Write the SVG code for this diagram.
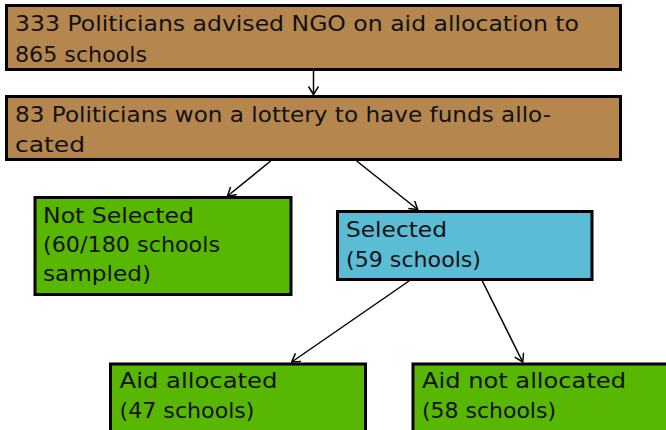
<svg xmlns="http://www.w3.org/2000/svg" width="666" height="430" viewBox="0 0 666 430">
<defs>
<style>
.box{stroke:#000;stroke-width:3}
.brown{fill:#B5874F}
.green{fill:#58B700}
.blue{fill:#5BBCD6}
text{font-family:"DejaVu Sans","Liberation Sans",sans-serif;font-size:22px;fill:#111}
.conn line{stroke:#000;stroke-width:1.5;fill:none;marker-end:url(#arr)}
</style>
<marker id="arr" markerUnits="userSpaceOnUse" markerWidth="14" markerHeight="14" refX="9" refY="5" orient="auto">
<path d="M1,0 L9,5 L1,10" fill="none" stroke="#000" stroke-width="1.5"/>
</marker>
</defs>
<rect width="666" height="430" fill="#fff"/>
<g id="politicians">
<rect class="box brown" x="6.5" y="5.5" width="614" height="64"/>
<text x="15" y="31" textLength="564" lengthAdjust="spacingAndGlyphs">333 Politicians advised NGO on aid allocation to</text>
<text x="15" y="61.5" textLength="132" lengthAdjust="spacingAndGlyphs">865 schools</text>
</g>
<g id="lottery">
<rect class="box brown" x="6.5" y="96.5" width="614" height="63"/>
<text x="15" y="121.7" textLength="536" lengthAdjust="spacingAndGlyphs">83 Politicians won a lottery to have funds allo-</text>
<text x="15" y="152.3" textLength="70" lengthAdjust="spacingAndGlyphs">cated</text>
</g>
<g id="not-selected">
<rect class="box green" x="35" y="197.5" width="256" height="97"/>
<text x="43" y="223" textLength="151" lengthAdjust="spacingAndGlyphs">Not Selected</text>
<text x="43" y="252" textLength="177" lengthAdjust="spacingAndGlyphs">(60/180 schools</text>
<text x="43" y="281" textLength="108" lengthAdjust="spacingAndGlyphs">sampled)</text>
</g>
<g id="selected">
<rect class="box blue" x="337.5" y="211.5" width="254.5" height="68"/>
<text x="346" y="236.7" textLength="101" lengthAdjust="spacingAndGlyphs">Selected</text>
<text x="346" y="266.7" textLength="135" lengthAdjust="spacingAndGlyphs">(59 schools)</text>
</g>
<g id="aid-allocated">
<rect class="box green" x="110.5" y="364" width="255" height="100"/>
<text x="119.5" y="388.3" textLength="158" lengthAdjust="spacingAndGlyphs">Aid allocated</text>
<text x="119.5" y="418.3" textLength="135" lengthAdjust="spacingAndGlyphs">(47 schools)</text>
</g>
<g id="aid-not-allocated">
<rect class="box green" x="413" y="364" width="300" height="100"/>
<text x="422" y="388" textLength="204" lengthAdjust="spacingAndGlyphs">Aid not allocated</text>
<text x="422" y="418" textLength="134" lengthAdjust="spacingAndGlyphs">(58 schools)</text>
</g>
<g id="connectors" class="conn">
<line x1="313.5" y1="71" x2="313.5" y2="94.5"/>
<line x1="270.7" y1="161" x2="227.5" y2="196"/>
<line x1="356.7" y1="161" x2="417.7" y2="209.5"/>
<line x1="409" y1="281" x2="291.7" y2="362"/>
<line x1="482.3" y1="281" x2="522.7" y2="362"/>
</g>
</svg>
